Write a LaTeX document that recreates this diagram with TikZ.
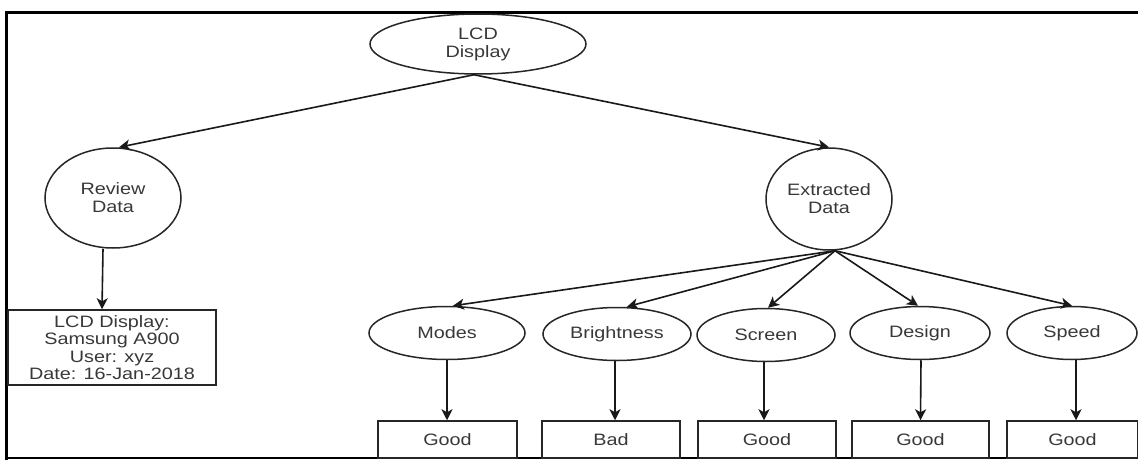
\documentclass[tikz,border=0pt]{standalone}
\usepackage{fontspec}
\setmainfont[FakeStretch=1.2]{Liberation Sans}
\usetikzlibrary{shapes.geometric,arrows.meta}
\tikzset{
  oval/.style={draw=black!85, line width=1.5pt, ellipse, inner sep=0pt, align=center,
    font=\fontsize{16.5}{18}\selectfont, text=black!78},
  valbox/.style={draw=black!85, line width=1.5pt, rectangle, inner sep=0pt, align=center,
    minimum height=37pt, font=\fontsize{16.5}{18}\selectfont, text=black!78},
  infobox/.style={draw=black!85, line width=1.5pt, rectangle, inner sep=0pt, align=center,
    minimum width=208pt, minimum height=75pt, font=\fontsize{16.5}{17.5}\selectfont, text=black!78},
  link/.style={draw=black!90, line width=1.6pt, -{Stealth[length=11pt,width=11pt,inset=3pt]}},
  frameline/.style={draw=black, line width=3pt},
}
\begin{document}
\begin{tikzpicture}[x=1pt,y=-1pt]
\useasboundingbox (0,0) rectangle (1138,460);
% frame
\draw[frameline] (6.5,460) -- (6.5,13) -- (1138,13);
\draw[draw=black, line width=2pt] (6.5,458) -- (1138,458);

% nodes
\node[oval, minimum width=216pt, minimum height=60pt] (lcd) at (478,44) {LCD\\Display};
\node[oval, minimum width=136pt, minimum height=100pt] (rev) at (113,198) {Review\\Data};
\node[oval, minimum width=126pt, minimum height=102pt] (ext) at (829,199) {Extracted\\Data};
\node[infobox] (info) at (112,347.5) {LCD Display:\\Samsung A900\\User: xyz\\Date: 16-Jan-2018};

\node[oval, minimum width=156pt, minimum height=53pt] (modes) at (447,333) {Modes};
\node[oval, minimum width=148pt, minimum height=53pt] (bright) at (617,334) {Brightness};
\node[oval, minimum width=138pt, minimum height=53pt] (screen) at (766,335) {Screen};
\node[oval, minimum width=140pt, minimum height=53pt] (design) at (920,333) {Design};
\node[oval, minimum width=130pt, minimum height=53pt] (speed) at (1072,333) {Speed};

\node[valbox, minimum width=139pt] (v1) at (447.5,439.5) {Good};
\node[valbox, minimum width=138pt] (v2) at (611,439.5) {Bad};
\node[valbox, minimum width=138pt] (v3) at (767,439.5) {Good};
\node[valbox, minimum width=137pt] (v4) at (920.5,439.5) {Good};
\node[valbox, minimum width=131pt] (v5) at (1072.5,439.5) {Good};

% connectors
\draw[link] ([xshift=-4pt]lcd.south) -- ([xshift=6pt]rev.north);
\draw[link] ([xshift=-4pt]lcd.south) -- (ext.north);
\draw[link] ([xshift=-10pt]rev.south) -- ([xshift=-10pt]info.north);

\draw[link] ([xshift=6pt]ext.south) -- ([xshift=6pt]modes.north);
\draw[link] ([xshift=6pt]ext.south) -- ([xshift=10pt]bright.north);
\draw[link] ([xshift=6pt]ext.south) -- ([xshift=2pt]screen.north);
\draw[link] ([xshift=6pt]ext.south) -- ([xshift=-2pt]design.north);
\draw[link] ([xshift=6pt]ext.south) -- (speed.north);

\draw[link] (modes.south) -- (v1.north -| modes.south);
\draw[link] ([xshift=-2pt]bright.south) -- ([xshift=4pt]v2.north);
\draw[link] ([xshift=-2pt]screen.south) -- ([xshift=-3pt]v3.north);
\draw[link] ([xshift=1pt]design.south) -- (v4.north);
\draw[link] ([xshift=4pt]speed.south) -- ([xshift=3.5pt]v5.north);
\end{tikzpicture}
\end{document}
